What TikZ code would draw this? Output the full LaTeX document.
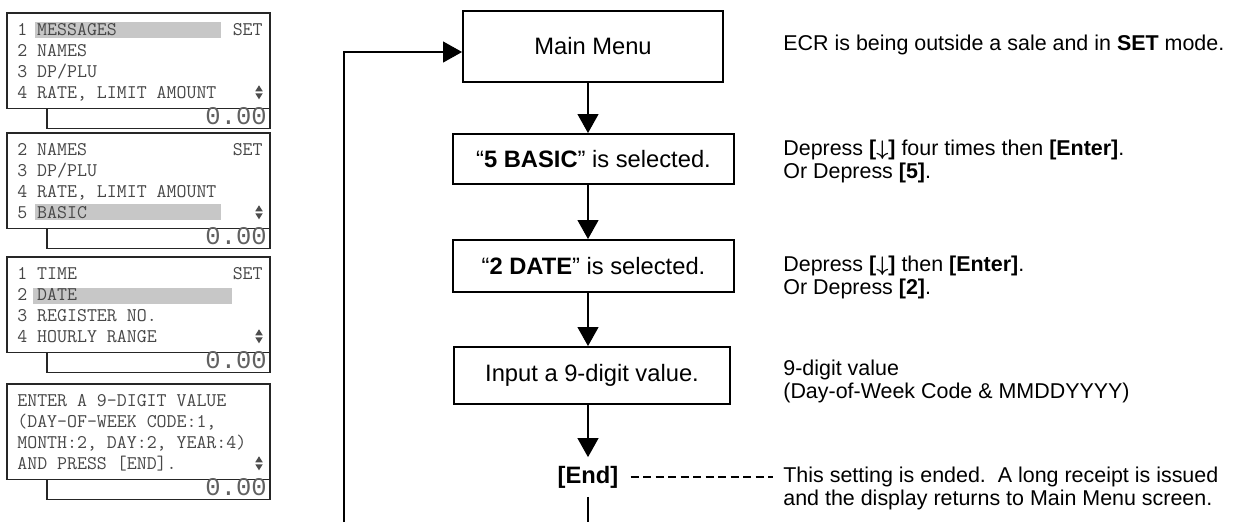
\documentclass[tikz,border=0pt]{standalone}
\usepackage{amsmath}
\usepackage{fontspec}
\setmainfont{Liberation Sans}
\newfontfamily\lcdfont{Liberation Mono}
\usepackage{xcolor}
\usepackage{tikz}
\usetikzlibrary{arrows.meta}

\begin{document}
\begin{tikzpicture}[
  flowbox/.style={draw, line width=1.1pt, font=\fontsize{13.5}{16}\selectfont},
  flowarrow/.style={line width=0.6pt, -{Triangle[length=0.38cm,width=0.42cm]}},
  note/.style={anchor=west, inner sep=0pt, align=left, font=\fontsize{12.2}{13.1}\selectfont},
  lcdframe/.style={line width=1pt, draw=black!85},
  lcdbar/.style={fill=black!22},
  lcdtext/.style={anchor=base west, inner sep=0pt, text=black!72, font=\ttfamily\fontsize{11}{12}\selectfont},
  lcdset/.style={lcdtext, anchor=base east},
  lcdtotal/.style={anchor=base east, inner sep=0pt, text=black!62, font=\lcdfont\fontsize{14.5}{16}\selectfont},
  lcdscroll/.style={fill=black!70},
]
\useasboundingbox (0,0) rectangle (24.66,-10.44);

% screen 1
\fill[lcdbar] (0.70,-0.44) rectangle (4.42,-0.76);
\draw[lcdframe] (0.14,-0.26) rectangle (5.40,-2.17);
\draw[lcdframe] (0.94,-2.17) -- (0.94,-2.57) -- (5.40,-2.57) -- (5.40,-2.17);
\node[lcdtext] (scra1) at (0.34,-0.715) {1 MESSAGES};
\node[lcdtext] (scra2) at (0.34,-1.13) {2 NAMES};
\node[lcdtext] (scra3) at (0.34,-1.545) {3 DP/PLU};
\node[lcdtext] (scra4) at (0.34,-1.96) {4 RATE, LIMIT AMOUNT};
\node[lcdset] (scraset) at (5.26,-0.715) {SET};
\fill[lcdscroll, shift={(5.18,-1.845)}] (-0.075,0.02) -- (0.075,0.02) -- (0,0.14) -- cycle (-0.075,-0.02) -- (0.075,-0.02) -- (0,-0.14) -- cycle;
\node[lcdtotal] (scratot) at (5.34,-2.48) {0.00};

% screen 2
\fill[lcdbar] (0.70,-4.08) rectangle (4.42,-4.40);
\draw[lcdframe] (0.14,-2.66) rectangle (5.40,-4.57);
\draw[lcdframe] (0.94,-4.57) -- (0.94,-4.97) -- (5.40,-4.97) -- (5.40,-4.57);
\node[lcdtext] (scrb1) at (0.34,-3.115) {2 NAMES};
\node[lcdtext] (scrb2) at (0.34,-3.53) {3 DP/PLU};
\node[lcdtext] (scrb3) at (0.34,-3.945) {4 RATE, LIMIT AMOUNT};
\node[lcdtext] (scrb4) at (0.34,-4.36) {5 BASIC};
\node[lcdset] (scrbset) at (5.26,-3.115) {SET};
\fill[lcdscroll, shift={(5.18,-4.245)}] (-0.075,0.02) -- (0.075,0.02) -- (0,0.14) -- cycle (-0.075,-0.02) -- (0.075,-0.02) -- (0,-0.14) -- cycle;
\node[lcdtotal] (scrbtot) at (5.34,-4.88) {0.00};

% screen 3
\fill[lcdbar] (0.66,-5.76) rectangle (4.64,-6.08);
\draw[lcdframe] (0.14,-5.14) rectangle (5.40,-7.05);
\draw[lcdframe] (0.94,-7.05) -- (0.94,-7.45) -- (5.40,-7.45) -- (5.40,-7.05);
\node[lcdtext] (scrc1) at (0.34,-5.595) {1 TIME};
\node[lcdtext] (scrc2) at (0.34,-6.01) {2 DATE};
\node[lcdtext] (scrc3) at (0.34,-6.425) {3 REGISTER NO.};
\node[lcdtext] (scrc4) at (0.34,-6.84) {4 HOURLY RANGE};
\node[lcdset] (scrcset) at (5.26,-5.595) {SET};
\fill[lcdscroll, shift={(5.18,-6.725)}] (-0.075,0.02) -- (0.075,0.02) -- (0,0.14) -- cycle (-0.075,-0.02) -- (0.075,-0.02) -- (0,-0.14) -- cycle;
\node[lcdtotal] (scrctot) at (5.34,-7.36) {0.00};

% screen 4
\draw[lcdframe] (0.14,-7.68) rectangle (5.40,-9.59);
\draw[lcdframe] (0.94,-9.59) -- (0.94,-9.99) -- (5.40,-9.99) -- (5.40,-9.59);
\node[lcdtext] (scrd1) at (0.34,-8.135) {ENTER A 9-DIGIT VALUE};
\node[lcdtext] (scrd2) at (0.34,-8.55) {(DAY-OF-WEEK CODE:1,};
\node[lcdtext] (scrd3) at (0.34,-8.965) {MONTH:2, DAY:2, YEAR:4)};
\node[lcdtext] (scrd4) at (0.34,-9.38) {AND PRESS [END].};
\fill[lcdscroll, shift={(5.18,-9.265)}] (-0.075,0.02) -- (0.075,0.02) -- (0,0.14) -- cycle (-0.075,-0.02) -- (0.075,-0.02) -- (0,-0.14) -- cycle;
\node[lcdtotal] (scrdtot) at (5.34,-9.90) {0.00};

% flow
\node[flowbox, minimum width=5.2cm, minimum height=1.42cm] (mainmenu) at (11.86,-0.93) {Main Menu};
\node[flowbox, minimum width=5.62cm, minimum height=1.0cm] (basicsel) at (11.87,-3.18) {“\textbf{5 BASIC}” is selected.};
\node[flowbox, minimum width=5.62cm, minimum height=1.04cm] (datesel) at (11.87,-5.32) {“\textbf{2 DATE}” is selected.};
\node[flowbox, minimum width=5.52cm, minimum height=1.14cm] (inputval) at (11.84,-7.51) {Input a 9-digit value.};
\node[font=\bfseries\fontsize{13.5}{16}\selectfont, inner xsep=0.24cm, inner ysep=0.17cm] (endkey) at (11.76,-9.54) {[End]};
\coordinate (loopfoot) at (6.88,-10.44);

\draw[flowarrow] (mainmenu.south -| endkey) -- (basicsel.north -| endkey);
\draw[flowarrow] (basicsel.south -| endkey) -- (datesel.north -| endkey);
\draw[flowarrow] (datesel.south -| endkey) -- (inputval.north -| endkey);
\draw[flowarrow] (inputval.south -| endkey) -- (endkey.north);
\draw[flowarrow] (loopfoot) |- ([yshift=-0.11cm]mainmenu.west);
\draw[line width=0.6pt] (endkey.south) -- (endkey.south |- loopfoot);

% notes
\node[note] (ecrnote) at (15.66,-0.89) {ECR is being outside a sale and in \textbf{SET} mode.};
\node[note] (basicnote) at (15.66,-3.22) {Depress \textbf{[$\boldsymbol{\downarrow}$]} four times then \textbf{[Enter]}.\\Or Depress \textbf{[5]}.};
\node[note] (datenote) at (15.66,-5.54) {Depress \textbf{[$\boldsymbol{\downarrow}$]} then \textbf{[Enter]}.\\Or Depress \textbf{[2]}.};
\node[note] (valnote) at (15.66,-7.62) {9-digit value\\(Day-of-Week Code \& MMDDYYYY)};
\node[note] (endnote) at (15.66,-9.76) {This setting is ended.\ \ A long receipt is issued\\and the display returns to Main Menu screen.};
\draw[line width=0.6pt, dash pattern=on 0.16cm off 0.09cm, shorten >=0.2cm] (endkey.east) -- (endnote.west |- endkey.east);
\end{tikzpicture}
\end{document}
